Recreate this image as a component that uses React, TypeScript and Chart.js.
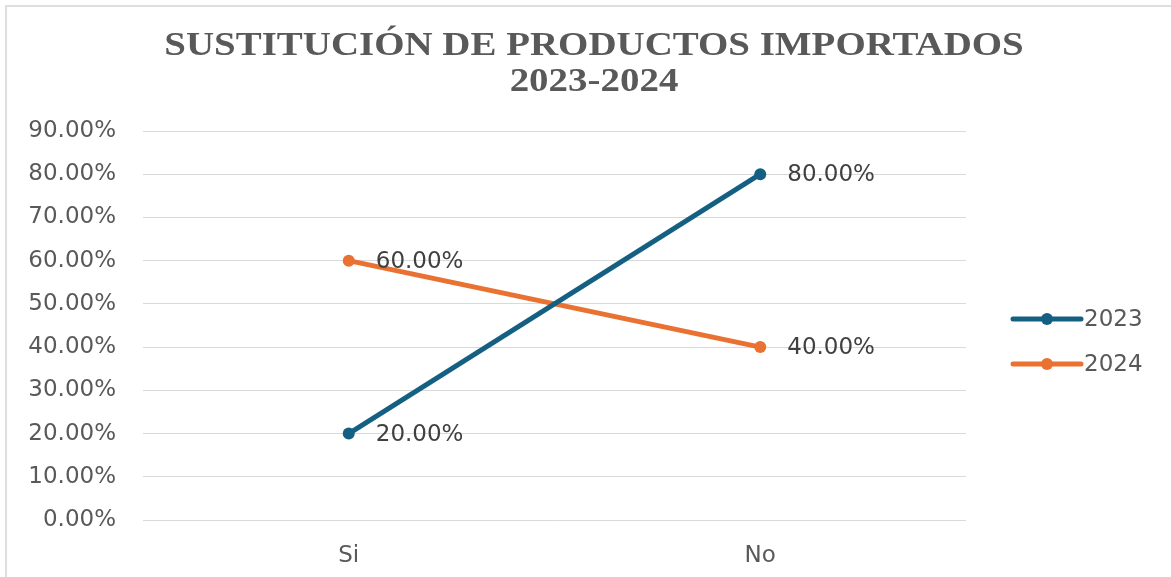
import React, { useEffect, useRef } from 'react';
import { Chart, registerables } from 'chart.js';

Chart.register(...registerables);

const categories = ['Si', 'No'];
const seriesNames = ['2023', '2024'];
const values2023 = [0.2, 0.8];
const values2024 = [0.6, 0.4];
const seriesColors = ['#156082', '#E97132'];
const titleLines = ['SUSTITUCIÓN DE PRODUCTOS IMPORTADOS', '2023-2024'];
const yMin = 0;
const yMax = 0.9;
const yStep = 0.1;

const fmt = (v: number) => (v * 100).toFixed(2) + '%';

const TEXT_FONT = '"DejaVu Sans", "Liberation Sans", Arial, sans-serif';

const titlePlugin = {
  id: 'customTitle',
  afterDraw(chart: any) {
    const ctx = chart.ctx;
    ctx.save();
    ctx.font = 'bold 33px "Liberation Serif", "Times New Roman", serif';
    ctx.fillStyle = '#595959';
    ctx.textAlign = 'center';
    ctx.textBaseline = 'alphabetic';
    const baselines = [55, 91];
    titleLines.forEach((line, i) => {
      ctx.save();
      ctx.translate(594, baselines[i]);
      ctx.scale(1.18, 1);
      ctx.fillText(line, 0, 0);
      ctx.restore();
    });
    ctx.restore();
  },
};

const dataLabelPlugin = {
  id: 'dataLabels',
  afterDatasetsDraw(chart: any) {
    const ctx = chart.ctx;
    ctx.save();
    ctx.font = '23px ' + TEXT_FONT;
    ctx.fillStyle = '#404040';
    ctx.textAlign = 'left';
    ctx.textBaseline = 'middle';
    chart.data.datasets.forEach((ds: any, di: number) => {
      const meta = chart.getDatasetMeta(di);
      meta.data.forEach((el: any, i: number) => {
        ctx.fillText(fmt(ds.data[i]), el.x + 27, el.y + 1);
      });
    });
    ctx.restore();
  },
};

const legendPlugin = {
  id: 'customLegend',
  afterDraw(chart: any) {
    const ctx = chart.ctx;
    const area = chart.chartArea;
    ctx.save();
    ctx.font = '23px ' + TEXT_FONT;
    ctx.textAlign = 'left';
    ctx.textBaseline = 'middle';
    chart.data.datasets.forEach((ds: any, i: number) => {
      const y = area.top + 188 + i * 45;
      const x0 = area.right + 47;
      const x1 = area.right + 115;
      ctx.strokeStyle = ds.borderColor;
      ctx.lineWidth = 5;
      ctx.lineCap = 'round';
      ctx.beginPath();
      ctx.moveTo(x0, y);
      ctx.lineTo(x1, y);
      ctx.stroke();
      ctx.fillStyle = ds.borderColor;
      ctx.beginPath();
      ctx.arc((x0 + x1) / 2, y, 6, 0, Math.PI * 2);
      ctx.fill();
      ctx.fillStyle = '#595959';
      ctx.fillText(ds.label, x1 + 3, y + 1);
    });
    ctx.restore();
  },
};

export default function App() {
  const canvasRef = useRef<HTMLCanvasElement | null>(null);

  useEffect(() => {
    if (!canvasRef.current) return;
    const datasets = [values2023, values2024].map((vals, i) => ({
      label: seriesNames[i],
      data: vals,
      borderColor: seriesColors[i],
      backgroundColor: seriesColors[i],
      pointBackgroundColor: seriesColors[i],
      pointBorderColor: seriesColors[i],
      borderWidth: 5,
      pointRadius: 6,
      pointBorderWidth: 0,
      tension: 0,
    }));
    const chart = new Chart(canvasRef.current, {
      type: 'line',
      data: { labels: categories, datasets },
      options: {
        animation: false,
        responsive: false,
        layout: { padding: { top: 131, right: 205, bottom: 0, left: 6 } },
        plugins: {
          legend: { display: false },
          title: { display: false },
          tooltip: { enabled: false },
        },
        scales: {
          x: {
            offset: true,
            grid: { display: false },
            border: { display: false },
            ticks: {
              color: '#595959',
              font: { size: 23, family: TEXT_FONT },
              padding: 14,
            },
            afterFit(scale: any) {
              scale.height = 57;
            },
          },
          y: {
            min: yMin,
            max: yMax,
            border: { display: false },
            grid: { color: '#d9d9d9', lineWidth: 1, drawTicks: false },
            ticks: {
              stepSize: yStep,
              color: '#595959',
              font: { size: 23, family: TEXT_FONT },
              padding: 27,
              callback: (v: any) => fmt(Number(v)),
            },
            afterFit(scale: any) {
              scale.width = 137;
            },
          },
        },
      },
      plugins: [titlePlugin, dataLabelPlugin, legendPlugin],
    });
    return () => chart.destroy();
  }, []);

  return (
    <div
      style={{
        position: 'absolute',
        left: 0,
        top: 0,
        width: 1171,
        height: 577,
        overflow: 'hidden',
        background: '#ffffff',
      }}
    >
      <div
        style={{
          position: 'absolute',
          left: 5,
          top: 5,
          width: 1200,
          height: 620,
          border: '2px solid #dedede',
          boxSizing: 'border-box',
        }}
      />
      <canvas
        ref={canvasRef}
        width={1171}
        height={577}
        style={{ position: 'absolute', left: 0, top: 0, width: 1171, height: 577 }}
      />
    </div>
  );
}
